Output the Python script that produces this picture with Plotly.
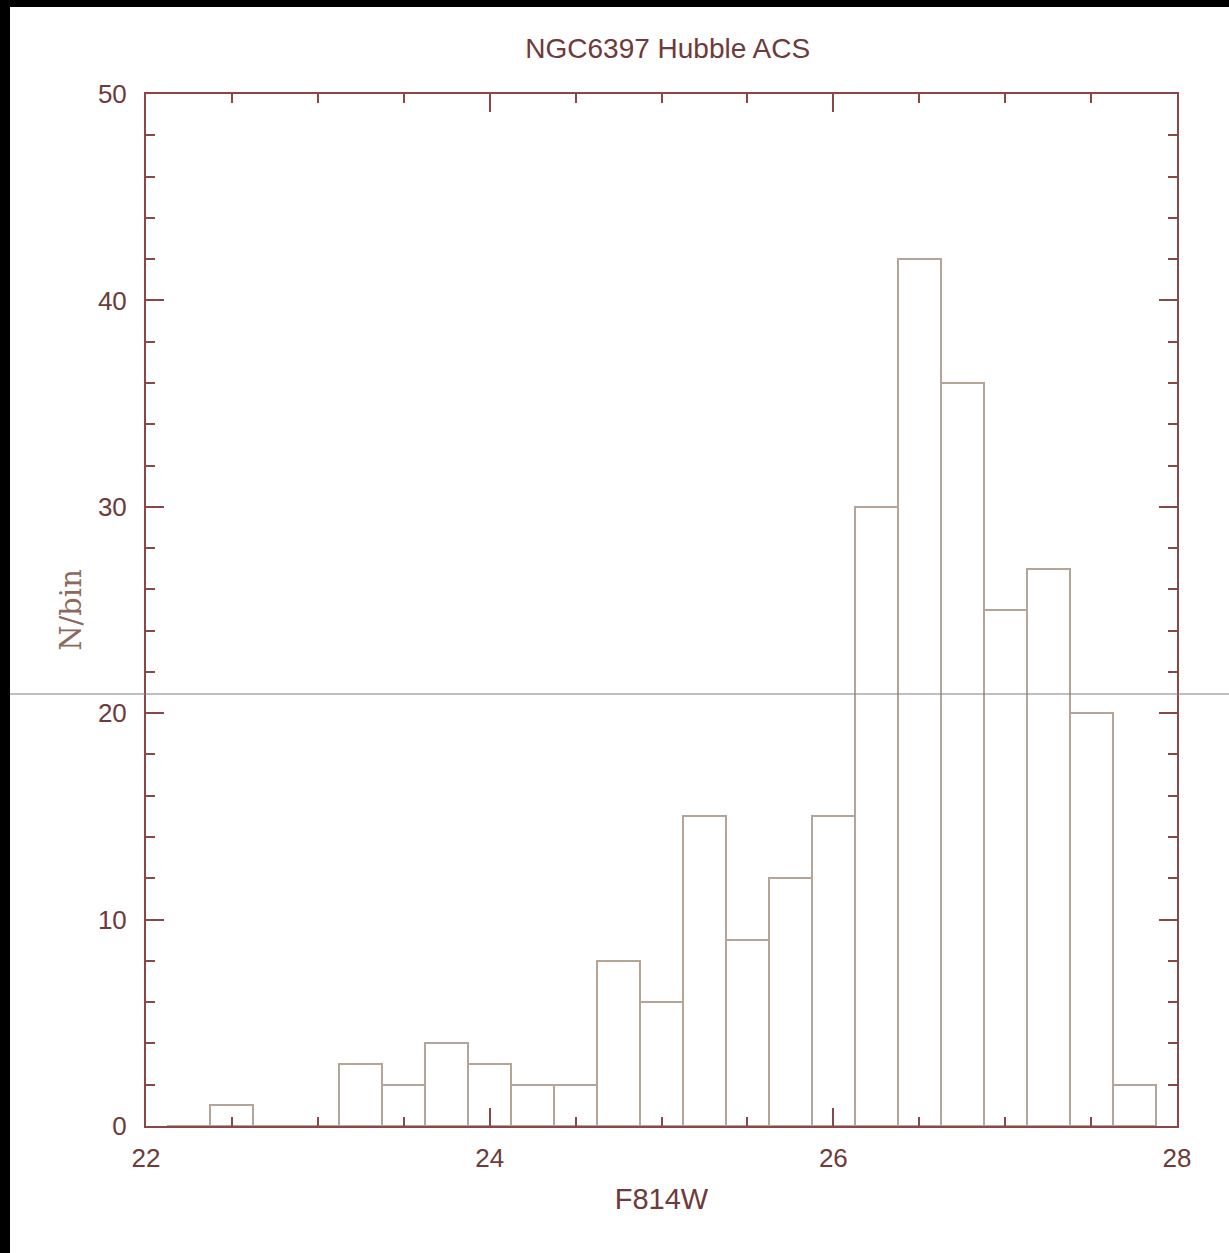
import plotly.graph_objects as go

# histogram of F814W magnitudes, bins of 0.25 mag
bin_centers = [22.25, 22.5, 22.75, 23.0, 23.25, 23.5, 23.75, 24.0, 24.25, 24.5, 24.75,
               25.0, 25.25, 25.5, 25.75, 26.0, 26.25, 26.5, 26.75, 27.0, 27.25, 27.5, 27.75]
counts = [0, 1, 0, 0, 3, 2, 4, 3, 2, 2, 8,
          6, 15, 9, 12, 15, 30, 42, 36, 25, 27, 20, 2]
bin_width = 0.25

axis_col = "#8a4747"
text_col = "#6e3a3a"
bar_col = "#b4a596"

fig = go.Figure()
fig.add_trace(go.Bar(x=bin_centers, y=counts, width=bin_width,
                     marker=dict(color="white", line=dict(color=bar_col, width=2)),
                     showlegend=False))

axis_common = dict(showline=True, linecolor=axis_col, linewidth=2, mirror="ticks",
                   ticks="inside", ticklen=18, tickwidth=2, tickcolor=axis_col,
                   showgrid=False, zeroline=False, layer="above traces",
                   tickfont=dict(family="Liberation Sans, Arial", size=26, color=text_col))

fig.update_xaxes(range=[22, 28], tick0=22, dtick=2, ticklabelstandoff=8,
                 minor=dict(dtick=0.5, ticks="inside", ticklen=9, tickwidth=2, tickcolor=axis_col),
                 title=dict(text="F814W", standoff=16,
                            font=dict(family="Liberation Sans, Arial", size=29, color=text_col)),
                 **axis_common)
fig.update_yaxes(range=[0, 50], tick0=0, dtick=10, ticklabelstandoff=12,
                 minor=dict(dtick=2, ticks="inside", ticklen=9, tickwidth=2, tickcolor=axis_col),
                 title=dict(text="N/bin", standoff=8,
                            font=dict(family="DejaVu Serif, serif", size=29, color="#8b6a5e")),
                 **axis_common)

fig.update_layout(
    width=1229, height=1253,
    margin=dict(l=146, r=52, t=94, b=127),
    paper_bgcolor="white", plot_bgcolor="white",
    title=dict(text="NGC6397 Hubble ACS", x=0.506, xref="paper", y=1 - 48 / 1253, yanchor="middle",
               font=dict(family="Liberation Sans, Arial", size=28, color=text_col)),
    bargap=0,
)

# screenshot frame: black strips top and left, thin grey line across
fig.add_shape(type="rect", xref="paper", yref="paper", x0=-0.2, x1=-0.1319, y0=-0.2, y1=1.2,
              fillcolor="black", line_width=0, layer="above")
fig.add_shape(type="rect", xref="paper", yref="paper", x0=-0.2, x1=1.1, y0=1.0843, y1=1.2,
              fillcolor="black", line_width=0, layer="above")
fig.add_shape(type="line", xref="paper", yref="paper", x0=-0.1319, x1=1.1, y0=0.4186, y1=0.4186,
              line=dict(color="#808080", width=1), layer="above")

fig.write_html("out.html", config={"displayModeBar": False},
               post_script="document.body.style.margin='0';")
